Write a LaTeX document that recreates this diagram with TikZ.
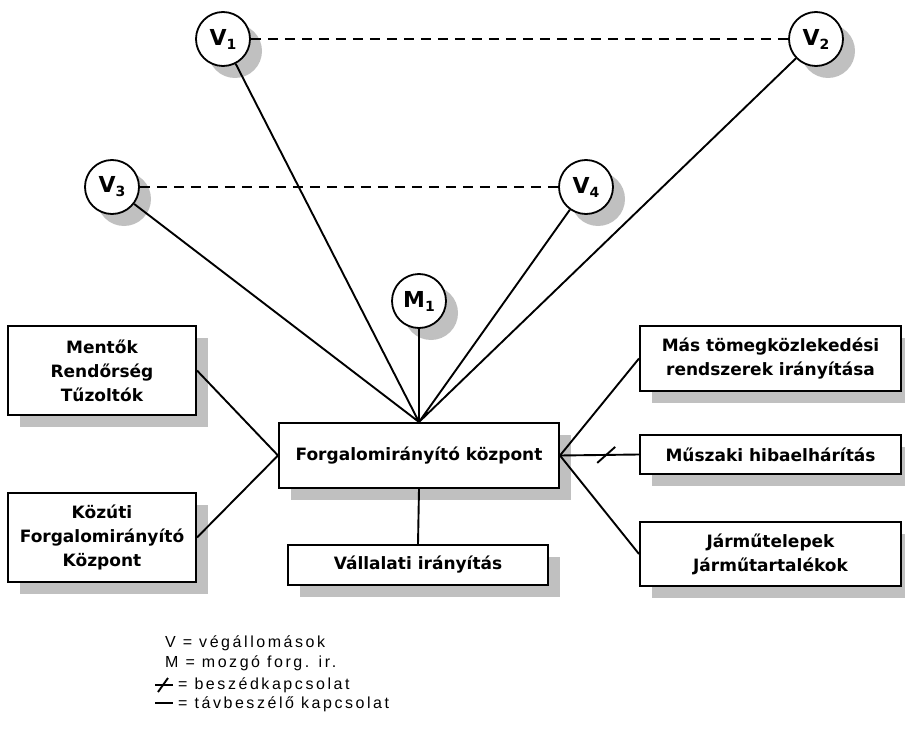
\documentclass[tikz,border=0pt]{standalone}
\usepackage{fontspec}
\setmainfont{DejaVu Sans}
\newfontfamily\legendfont{Liberation Sans}[LetterSpace=16]
\usetikzlibrary{shadows}
\definecolor{shadowgray}{RGB}{192,192,192}

% letter with a lowered index, as on the stations
\newcommand{\vlabel}[2]{{\fontsize{22}{22}\selectfont #1}\raisebox{-4pt}{\fontsize{14}{14}\selectfont #2}}

\begin{document}
\begin{tikzpicture}[x=1pt,y=-1pt]
\tikzstyle{station} = [
	shape=circle,
	draw=black, %border of the circle
	fill=white,
	line width=1.8pt,
	minimum size=54pt,
	inner sep=0pt,
	font=\bfseries,
	drop shadow={shadow xshift=12pt, shadow yshift=-12pt, fill=shadowgray, opacity=1}
];
\tikzstyle{unit} = [
	shape=rectangle,
	draw=black,
	fill=white,
	line width=2pt,
	inner sep=0pt,
	align=center,
	font=\bfseries\fontsize{17}{24}\selectfont,
	drop shadow={shadow xshift=12pt, shadow yshift=-12pt, fill=shadowgray, opacity=1}
];
\tikzstyle{link} = [line width=1.9pt, color=black];
\tikzstyle{radio} = [line width=1.6pt, color=black, dash pattern=on 10pt off 7pt];
\tikzstyle{legend} = [inner sep=0pt, anchor=base west, font=\legendfont\fontsize{16}{18}\selectfont];

\useasboundingbox (0,0) rectangle (905,741);

%end stations and mobile control
\node[station](V1) at (223,39) {\vlabel{V}{1}};
\node[station](V2) at (816,39) {\vlabel{V}{2}};
\node[station](V3) at (112,187) {\vlabel{V}{3}};
\node[station](V4) at (586,187) {\vlabel{V}{4}};
\node[station](M1) at (419,301) {\vlabel{M}{1}};

%control units
\node[unit, minimum width=280pt, minimum height=65pt](fk) at (419,455.5) {Forgalomirányító központ};
\node[unit, minimum width=260pt, minimum height=40pt](vall) at (418,565) {Vállalati irányítás};
\node[unit, minimum width=188pt, minimum height=89pt](ment) at (102,370.5) {Mentők\\Rendőrség\\Tűzoltók};
\node[unit, minimum width=188pt, minimum height=89pt](kozuti) at (102,537.5) {Közúti\\Forgalomirányító\\Központ};
\node[unit, minimum width=261pt, minimum height=65pt](mas) at (770.5,358.5) {Más tömegközlekedési\\rendszerek irányítása};
\node[unit, minimum width=261pt, minimum height=39pt](musz) at (770.5,454.5) {Műszaki hibaelhárítás};
\node[unit, minimum width=261pt, minimum height=64pt](jarmu) at (770.5,554) {Járműtelepek\\Járműtartalékok};

%radio links between stations
\draw[radio] (V1) -- (V2);
\draw[radio] (V3) -- (V4);

%telephone lines to the centre
\draw[link]
	(V1) -- (fk.north)
	(V2) -- (fk.north)
	(V3) -- (fk.north)
	(V4) -- (fk.north)
	(M1) -- (fk.north)
	(ment.east) -- (fk.west)
	(kozuti.east) -- (fk.west)
	(fk.east) -- (mas.west)
	(fk.east) -- (jarmu.west)
	(fk.south) -- (vall.north)
;

%speech link, crossed
\draw[link] (fk.east) -- coordinate[pos=0.585](cut) (musz.west);
\draw[link] ([shift={(-9,8)}]cut) -- ([shift={(9,-8)}]cut);

%legend
\node[legend](lv) at (165,647) {V = végállomások};
\node[legend](lm) at (165,667) {M = mozgó forg. ir.};
\node[legend](lb) at (178,689) {= beszédkapcsolat};
\node[legend](lt) at (178,708) {= távbeszélő kapcsolat};

\coordinate (b1) at (155,685);
\coordinate (b2) at (173,685);
\coordinate (s1) at (158,692);
\coordinate (s2) at (168,678);
\coordinate (t1) at (155,703);
\coordinate (t2) at (173,703);
\draw[link] (b1) -- (b2);
\draw[link] (s1) -- (s2);
\draw[link] (t1) -- (t2);
\end{tikzpicture}
\end{document}
